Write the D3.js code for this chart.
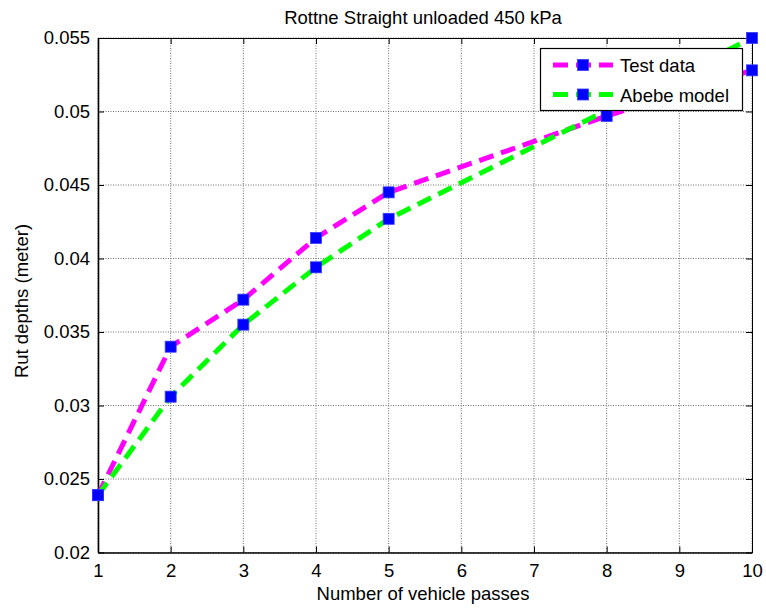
<!DOCTYPE html>
<html>
<head>
<meta charset="utf-8">
<script src="https://cdn.jsdelivr.net/npm/d3@7"></script>
<style>
  html, body { margin: 0; padding: 0; background: #fff; }
  svg { display: block; font-family: "Liberation Sans", Arial, Helvetica, sans-serif; }
</style>
</head>
<body>
<svg id="chart" width="766" height="614"></svg>
<script>
// Measured rut depth (m) against number of vehicle passes
const testPasses = [1, 2, 3, 4, 5, 8, 10];
const testDepths = [0.0239, 0.0340, 0.0372, 0.0414, 0.0445, 0.0497, 0.0528];

// Abebe model prediction
const modelPasses = [1, 2, 3, 4, 5, 10];
const modelDepths = [0.0239, 0.0306, 0.0355, 0.0394, 0.0427, 0.0550];

const xTicks = [1, 2, 3, 4, 5, 6, 7, 8, 9, 10];
const yTicks = [0.02, 0.025, 0.03, 0.035, 0.04, 0.045, 0.05, 0.055];
const yTickLabels = ["0.02", "0.025", "0.03", "0.035", "0.04", "0.045", "0.05", "0.055"];

const seriesNames = ["Test data", "Abebe model"];
const seriesColors = ["#ff00ff", "#00ff00"];

const title = "Rottne Straight unloaded 450 kPa";
const xLabel = "Number of vehicle passes";
const yLabel = "Rut depths (meter)";

const svg = d3.select("#chart");
const plot = { left: 98, right: 752, top: 38, bottom: 552.5 };
const fontSize = 18.5;

const x = d3.scaleLinear().domain([1, 10]).range([plot.left, plot.right]);
const y = d3.scaleLinear().domain([0.02, 0.055]).range([plot.bottom, plot.top]);

// dotted grid
const grid = svg.append("g");
grid.selectAll("line.gx").data(xTicks).join("line")
  .attr("x1", d => x(d)).attr("x2", d => x(d))
  .attr("y1", plot.top).attr("y2", plot.bottom)
  .attr("stroke", "#6e6e6e").attr("stroke-width", 1).attr("stroke-dasharray", "1,1.5");
grid.selectAll("line.gy").data(yTicks).join("line")
  .attr("y1", d => y(d)).attr("y2", d => y(d))
  .attr("x1", plot.left).attr("x2", plot.right)
  .attr("stroke", "#6e6e6e").attr("stroke-width", 1).attr("stroke-dasharray", "1,1.5");

// axes with inward ticks on all four sides
const tickLen = 6;
const axisBottom = d3.axisBottom(x).tickValues(xTicks).tickSizeInner(-tickLen).tickSizeOuter(0).tickPadding(11).tickFormat(d3.format("d"));
const axisTop = d3.axisTop(x).tickValues(xTicks).tickSizeInner(-tickLen).tickSizeOuter(0).tickFormat("");
const axisLeft = d3.axisLeft(y).tickValues(yTicks).tickSizeInner(-tickLen).tickSizeOuter(0).tickPadding(8)
  .tickFormat((d, i) => yTickLabels[i]);
const axisRight = d3.axisRight(y).tickValues(yTicks).tickSizeInner(-tickLen).tickSizeOuter(0).tickFormat("");

function styleAxis(g) {
  g.select(".domain").attr("stroke", "#000").attr("stroke-width", 1.6);
  g.selectAll(".tick line").attr("stroke", "#000").attr("stroke-width", 1);
  g.selectAll(".tick text").attr("fill", "#000").style("font-size", fontSize + "px")
    .style("font-family", "Liberation Sans, Arial, sans-serif");
}
svg.append("g").attr("transform", `translate(0,${plot.bottom})`).call(axisBottom).call(styleAxis);
svg.append("g").attr("transform", `translate(0,${plot.top})`).call(axisTop).call(styleAxis)
  .select(".domain").attr("stroke-width", 1);
svg.append("g").attr("transform", `translate(${plot.left},0)`).call(axisLeft).call(styleAxis);
svg.append("g").attr("transform", `translate(${plot.right},0)`).call(axisRight).call(styleAxis)
  .select(".domain").attr("stroke-width", 1);

// series
const series = [
  { name: seriesNames[0], color: seriesColors[0], pts: testPasses.map((p, i) => [p, testDepths[i]]) },
  { name: seriesNames[1], color: seriesColors[1], pts: modelPasses.map((p, i) => [p, modelDepths[i]]) }
];
const line = d3.line().x(d => x(d[0])).y(d => y(d[1]));
const mk = 11;

series.forEach(s => {
  svg.append("path").datum(s.pts)
    .attr("d", line).attr("fill", "none")
    .attr("stroke", s.color).attr("stroke-width", 5)
    .attr("stroke-dasharray", "15,8");
});
series.forEach(s => {
  svg.append("g").selectAll("rect").data(s.pts).join("rect")
    .attr("x", d => x(d[0]) - mk / 2).attr("y", d => y(d[1]) - mk / 2)
    .attr("width", mk).attr("height", mk)
    .attr("fill", "#0000ff").attr("stroke", "#3a3aff").attr("stroke-width", 0.8);
});

// legend
const lg = svg.append("g");
lg.append("rect").attr("x", 540.5).attr("y", 48.5).attr("width", 202).attr("height", 62)
  .attr("fill", "#fff").attr("stroke", "#000").attr("stroke-width", 1.2);
series.forEach((s, i) => {
  const cy = 65 + i * 29.5;
  lg.append("line").attr("x1", 553).attr("x2", 613).attr("y1", cy).attr("y2", cy)
    .attr("stroke", s.color).attr("stroke-width", 5).attr("stroke-dasharray", "15,8");
  lg.append("rect").attr("x", 583 - mk / 2).attr("y", cy - mk / 2).attr("width", mk).attr("height", mk)
    .attr("fill", "#0000ff").attr("stroke", "#3a3aff").attr("stroke-width", 0.8);
  lg.append("text").attr("x", 620).attr("y", cy + 7).text(s.name)
    .style("font-size", fontSize + "px").attr("fill", "#000");
});

// titles
svg.append("text").attr("x", 423).attr("y", 24).attr("text-anchor", "middle")
  .style("font-size", fontSize + "px").text(title);
svg.append("text").attr("x", 423).attr("y", 600).attr("text-anchor", "middle")
  .style("font-size", fontSize + "px").text(xLabel);
svg.append("text").attr("transform", "translate(28,301) rotate(-90)").attr("text-anchor", "middle")
  .style("font-size", fontSize + "px").text(yLabel);
</script>
</body>
</html>
